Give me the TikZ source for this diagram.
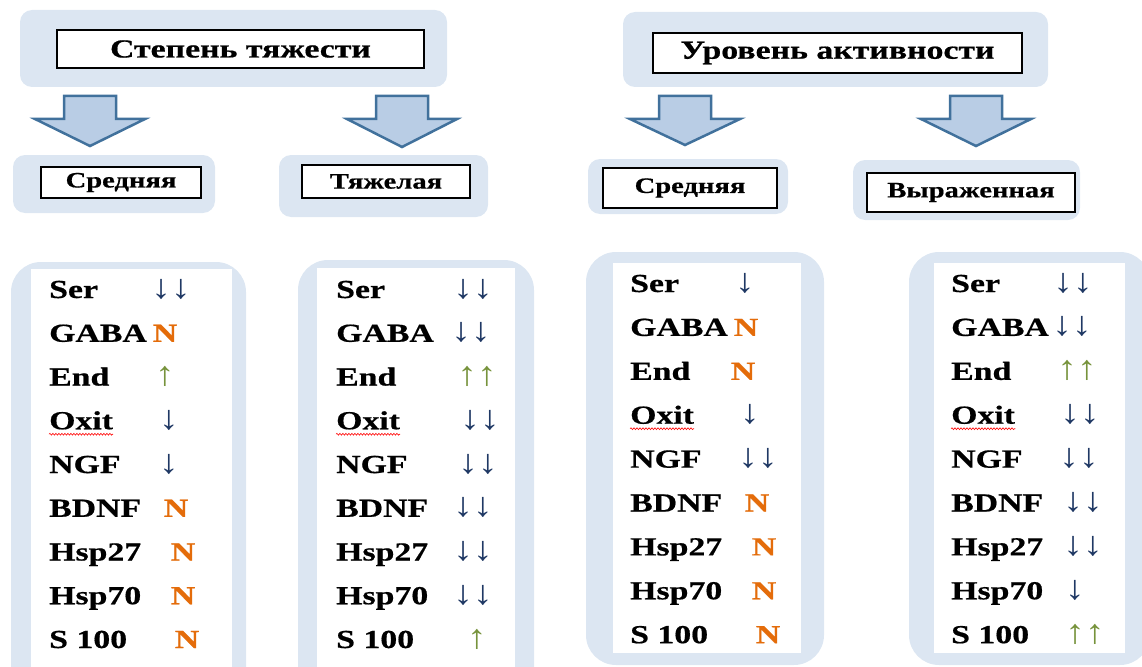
\documentclass[tikz,border=0pt]{standalone}
\usepackage{fontspec}
\setmainfont{Liberation Serif}[FakeStretch=1.3, BoldFeatures={FakeBold=0.6}]
\newfontfamily\arrowfont{Liberation Serif}[FakeStretch=1.15]
\usetikzlibrary{positioning,decorations.pathmorphing}

\definecolor{paleblue}{HTML}{DCE6F2}
\definecolor{arrowfill}{HTML}{B9CDE5}
\definecolor{arrowline}{HTML}{41719C}
\definecolor{navy}{HTML}{1F3864}
\definecolor{orng}{HTML}{E46C0A}
\definecolor{leaf}{HTML}{77933C}

\newcommand{\arw}{\arrowfont\fontsize{34}{36}\selectfont}
\newcommand{\dwn}{\textcolor{navy}{\arw ↓}}
\newcommand{\dwnn}{\textcolor{navy}{\arw ↓↓}}
\newcommand{\upp}{\textcolor{leaf}{\arw ↑}}
\newcommand{\uppp}{\textcolor{leaf}{\arw ↑↑}}
\newcommand{\nrm}{\textcolor{orng}{\bfseries N}}

\tikzset{
  panel/.style={fill=paleblue, rounded corners=12pt},
  bigpanel/.style={fill=paleblue, rounded corners=30pt},
  head/.style={draw=black, line width=1.2pt, fill=white, inner sep=0pt,
    font=\fontsize{26}{30}\selectfont\bfseries},
  sub/.style={draw=black, line width=1.2pt, fill=white, inner sep=0pt,
    font=\fontsize{22}{26}\selectfont\bfseries},
  item/.style={anchor=base west, inner sep=0pt, font=\fontsize{26}{30}\selectfont\bfseries},
  sign/.style={anchor=base, inner sep=0pt, font=\fontsize{26}{30}\selectfont},
  bigarrow/.style={draw=arrowline, fill=arrowfill, line width=2.5pt},
  wavy/.style={draw=red, line width=0.6pt, decorate,
    decoration={snake, amplitude=0.9pt, segment length=3pt}}
}

\begin{document}
\begin{tikzpicture}[x=1pt, y=-1pt]
  \useasboundingbox (0,0) rectangle (1142,666);
  \clip (0,0) rectangle (1142,666);

  % top groups
  \fill[panel] (20,10) rectangle (447,87);
  \fill[panel] (623,12) rectangle (1048,87);
  \node[head, minimum width=367, minimum height=38] (1) at (240.5,49) {Степень тяжести};
  \node[head, minimum width=369, minimum height=40] (2) at (837.5,53) {Уровень активности};

  % block arrows
  \foreach \c/\t in {90/146, 402/147, 685/145, 976/146}
    \draw[bigarrow] (\c-26,96) -- (\c+26,96) -- (\c+26,119) -- (\c+55,119)
      -- (\c,\t) -- (\c-55,119) -- (\c-26,119) -- cycle;

  % sub groups
  \fill[panel] (13,155) rectangle (215,213);
  \fill[panel] (279,155) rectangle (488,217);
  \fill[panel] (588,159) rectangle (788,214);
  \fill[panel] (853,160) rectangle (1080,220);
  \node[sub, minimum width=160, minimum height=31] (3) at (121,182.5) {Средняя};
  \node[sub, minimum width=168, minimum height=33] (4) at (386,181.5) {Тяжелая};
  \node[sub, minimum width=174, minimum height=40] (5) at (690,188) {Средняя};
  \node[sub, minimum width=208, minimum height=39] (6) at (971,192.5) {Выраженная};

  % lists
  \fill[bigpanel] (11,262) rectangle (246,700);
  \fill[bigpanel] (298,260) rectangle (534,700);
  \fill[bigpanel] (586,252) rectangle (824,665);
  \fill[bigpanel] (909,252) rectangle (1150,665);
  \fill[white] (31,269) rectangle (232,700);
  \fill[white] (317,268) rectangle (515,700);
  \fill[white] (613,263) rectangle (801,653);
  \fill[white] (934,263) rectangle (1125,653);

  \foreach \lbl/\sym/\sx [count=\i] in {Ser/\dwnn/171, GABA/\nrm/165, End/\upp/165,
      Oxit/\dwn/169, NGF/\dwn/169, BDNF/\nrm/176, Hsp27/\nrm/183, Hsp70/\nrm/183, S 100/\nrm/187} {
    \node[item] (a\i) at (49,{298+43.75*(\i-1)}) {\lbl};
    \node[sign] (x\i) at (\sx,{298+43.75*(\i-1)}) {\sym};
  }
  \foreach \lbl/\sym/\sx [count=\i] in {Ser/\dwnn/473, GABA/\dwnn/471, End/\uppp/477,
      Oxit/\dwnn/480, NGF/\dwnn/478, BDNF/\dwnn/473, Hsp27/\dwnn/473, Hsp70/\dwnn/473, S 100/\upp/477} {
    \node[item] (b\i) at (336,{298+43.75*(\i-1)}) {\lbl};
    \node[sign] (y\i) at (\sx,{298+43.75*(\i-1)}) {\sym};
  }
  \foreach \lbl/\sym/\sx [count=\i] in {Ser/\dwn/745, GABA/\nrm/746, End/\nrm/743,
      Oxit/\dwn/750, NGF/\dwnn/758, BDNF/\nrm/757, Hsp27/\nrm/764, Hsp70/\nrm/764, S 100/\nrm/768} {
    \node[item] (c\i) at (630,{292+43.9*(\i-1)}) {\lbl};
    \node[sign] (z\i) at (\sx,{292+43.9*(\i-1)}) {\sym};
  }
  \foreach \lbl/\sym/\sx [count=\i] in {Ser/\dwnn/1073, GABA/\dwnn/1072, End/\uppp/1077,
      Oxit/\dwnn/1080, NGF/\dwnn/1079, BDNF/\dwnn/1083, Hsp27/\dwnn/1083, Hsp70/\dwn/1075, S 100/\uppp/1085} {
    \node[item] (d\i) at (951,{292+43.9*(\i-1)}) {\lbl};
    \node[sign] (w\i) at (\sx,{292+43.9*(\i-1)}) {\sym};
  }

  % spell-check marks
  \draw[wavy] ([yshift=-5pt]a4.base west) -- ([yshift=-5pt]a4.base east);
  \draw[wavy] ([yshift=-5pt]b4.base west) -- ([yshift=-5pt]b4.base east);
  \draw[wavy] ([yshift=-5pt]c4.base west) -- ([yshift=-5pt]c4.base east);
  \draw[wavy] ([yshift=-5pt]d4.base west) -- ([yshift=-5pt]d4.base east);
\end{tikzpicture}
\end{document}
